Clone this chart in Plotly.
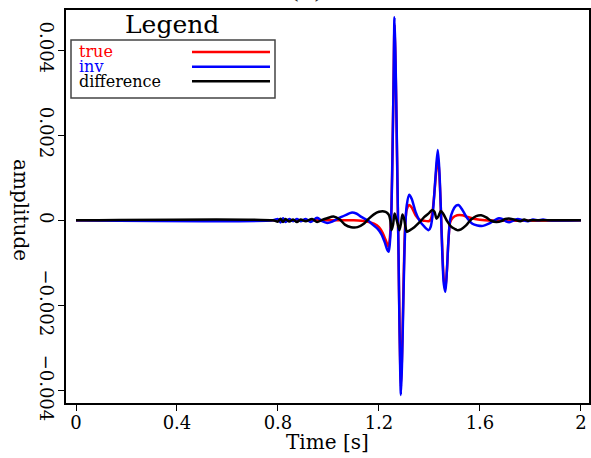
import plotly.graph_objects as go

# ---------------- data ----------------
t_true = [0.0, 0.78, 1.10, 1.13, 1.16, 1.18, 1.20, 1.215, 1.227, 1.2378, 1.2418, 1.2458,
          1.2498, 1.2538, 1.2578, 1.2616, 1.2656, 1.2696, 1.2736, 1.2776, 1.2816, 1.2870,
          1.2916, 1.2956, 1.2996, 1.3040, 1.3100, 1.3200, 1.3300, 1.345, 1.36, 1.38, 1.397,
          1.405, 1.412, 1.419, 1.426, 1.433, 1.439, 1.445, 1.451, 1.457, 1.463, 1.469, 1.475,
          1.482, 1.492, 1.51, 1.53, 1.55, 1.58, 1.62, 2.0]
a_true = [0, 0, 0, -1e-5, -4e-5, -8e-5, -1.6e-4, -3.0e-4, -4.7e-4, -6.2e-4, -5.0e-4, -2.0e-4,
          4e-4, 1.7e-3, 3.2e-3, 4.6e-3, 3.7e-3, 2.3e-3, 7e-4, -8e-4, -2.5e-3, -3.9e-3,
          -3.1e-3, -2.0e-3, -9e-4, -1e-4, 2.5e-4, 3.6e-4, 3.0e-4, 1.2e-4, 2e-5, -1e-5, -2e-5,
          2e-5, 2e-4, 6e-4, 1.1e-3, 1.5e-3, 1.1e-3, 3e-4, -7e-4, -1.4e-3, -1.6e-3, -1.2e-3, -5e-4,
          -5e-5, 6e-5, 1.2e-4, 1.2e-4, 8e-5, 3e-5, 0, 0]

t_inv = [0.0, 0.78, 0.80, 0.81, 0.82, 0.83, 0.845, 0.86, 0.875, 0.89, 0.91, 0.93, 0.955,
         0.975, 0.995, 1.015, 1.04, 1.07, 1.09, 1.11, 1.13, 1.155, 1.175, 1.195, 1.210, 1.222,
         1.232, 1.2378, 1.2418, 1.2458, 1.2498, 1.2538, 1.2578, 1.2616, 1.2656, 1.2696, 1.2736,
         1.2776, 1.2816, 1.2870, 1.2916, 1.2956, 1.2996, 1.3040, 1.3100, 1.3200, 1.3300, 1.345,
         1.36, 1.38, 1.397, 1.405, 1.412, 1.419, 1.426, 1.433, 1.439, 1.445, 1.451, 1.457,
         1.463, 1.469, 1.475, 1.482, 1.492, 1.505, 1.515, 1.530, 1.55, 1.57, 1.59, 1.612,
         1.635, 1.655, 1.675, 1.69, 1.705, 1.72, 1.735, 1.75, 1.77, 1.79, 1.81, 1.83, 1.85,
         1.87, 2.0]
a_inv = [0, 0, 3e-5, -5e-5, 5e-5, -4e-5, 3e-5, -2e-5, 3e-5, -2e-5, 3e-5, -4e-5, 6e-5,
         -2e-5, -6e-5, -3e-5, 5e-5, 1.3e-4, 1.8e-4, 1.6e-4, 8e-5, 0, -1e-4, -2e-4, -3.3e-4, -5e-4,
         -6.8e-4, -7.4e-4, -6.2e-4, -3e-4, 3e-4, 1.6e-3, 3.2e-3, 4.77e-3, 3.8e-3, 2.4e-3, 8e-4,
         -8e-4, -2.6e-3, -4.1e-3, -3.3e-3, -2.2e-3, -1.1e-3, -2e-4, 3.5e-4, 6e-4, 5e-4, 2e-4,
         0, -1.5e-4, -2.3e-4, -1.5e-4, 1e-4, 6e-4, 1.2e-3, 1.65e-3, 1.2e-3, 3e-4, -8e-4, -1.5e-3,
         -1.68e-3, -1.2e-3, -5e-4, 2e-5, 2.2e-4, 3.4e-4, 3.6e-4, 2.5e-4, 5e-5, -8e-5, -1.2e-4, -1.3e-4,
         -8e-5, -1e-5, 5e-5, 3e-5, -3e-5, -4e-5, 0, 3e-5, 0, -2e-5, 2e-5, 0, 2e-5,
         0, 0]

t_diff = [0.0, 0.78, 0.80, 0.81, 0.82, 0.83, 0.845, 0.86, 0.875, 0.89, 0.91, 0.935, 0.955,
          0.975, 0.995, 1.02, 1.045, 1.065, 1.09, 1.115, 1.14, 1.16, 1.18, 1.20, 1.22, 1.232,
          1.240, 1.245, 1.250, 1.256, 1.262, 1.268, 1.275, 1.281, 1.287, 1.293, 1.299, 1.305,
          1.311, 1.32, 1.34, 1.36, 1.38, 1.40, 1.41, 1.42, 1.428, 1.436, 1.445, 1.455, 1.47,
          1.485, 1.50, 1.51, 1.525, 1.545, 1.565, 1.585, 1.605, 1.625, 1.645, 1.665, 1.685,
          1.70, 1.72, 1.74, 1.76, 1.775, 1.79, 1.80, 2.0]
a_diff = [0, 0, -3e-5, 4e-5, -4e-5, 3e-5, -3e-5, 2e-5, -4e-5, 2e-5, -2e-5, 3e-5, -4e-5,
          1e-5, 5e-5, 9e-5, 2e-5, -1e-4, -1.6e-4, -1.6e-4, -8e-5, 4e-5, 1.4e-4, 2e-4, 2.1e-4, 1.8e-4,
          1.2e-4, 0, -2.3e-4, -1e-4, 1.6e-4, 5e-5, -1e-4, -2.3e-4, -8e-5, 1.4e-4, 5e-5, -1.5e-4,
          -2.7e-4, -2.4e-4, -1.6e-4, -5e-5, 8e-5, 1.8e-4, 2.4e-4, 2e-4, 4e-5, 1e-4, 2.2e-4, 1.5e-4, -2e-5,
          -1.4e-4, -2e-4, -2.3e-4, -2.1e-4, -1.2e-4, 2e-5, 1e-4, 1.2e-4, 7e-5, -1e-5, -4e-5, -2e-5,
          3e-5, 4e-5, 1e-5, -2e-5, 2e-5, -1e-5, 0, 0]

x_ticks = [0, 0.4, 0.8, 1.2, 1.6, 2]
x_tick_text = ["0", "0.4", "0.8", "1.2", "1.6", "2"]
y_ticks = [0.004, 0.002, 0, -0.002, -0.004]
y_tick_text = ["0.004", "0.002", "0", "\u22120.002", "\u22120.004"]

legend_names = ["true", "inv", "difference"]
legend_colors = ["#ff0000", "#0000ff", "#000000"]

# ---------------- figure ----------------
FONT = "DejaVu Serif"
W, H = 591, 458
ML, MR, MT, MB = 66, 2, 10, 55
PW, PH = W - ML - MR, H - MT - MB


def px(x):
    return (x - ML) / PW


def py(y):
    return (H - MB - y) / PH


fig = go.Figure()
series = [(t_true, a_true), (t_inv, a_inv), (t_diff, a_diff)]
for (tt, aa), name, col in zip(series, legend_names, legend_colors):
    fig.add_trace(go.Scatter(x=tt, y=aa, mode="lines", name=name,
                             line=dict(color=col, width=2.5, shape="spline", smoothing=0.8),
                             showlegend=False, hoverinfo="skip"))

axis_common = dict(showline=True, mirror=True, linecolor="black", linewidth=1.5,
                   ticks="outside", ticklen=6, tickwidth=1, tickcolor="black",
                   showgrid=False, zeroline=False,
                   tickfont=dict(family=FONT, size=18, color="black"))
fig.update_xaxes(range=[-0.0396, 2.032], tickvals=x_ticks, ticktext=x_tick_text,
                 ticklabelstandoff=-3, **axis_common)
fig.update_yaxes(range=[-0.00429, 0.00494], tickvals=y_ticks, ticktext=y_tick_text,
                 tickangle=90, ticklabelstandoff=-3, **axis_common)

annotations = [
    dict(text="Time [s]", x=px(327), y=py(442), xref="paper", yref="paper",
         xanchor="center", yanchor="middle", showarrow=False,
         font=dict(family=FONT, size=20, color="black")),
    dict(text="amplitude", textangle=90, x=px(21), y=py(210), xref="paper", yref="paper",
         xanchor="center", yanchor="middle", showarrow=False,
         font=dict(family=FONT, size=20, color="black")),
    dict(text="Legend", x=px(172), y=py(25), xref="paper", yref="paper",
         xanchor="center", yanchor="middle", showarrow=False,
         font=dict(family=FONT, size=25, color="black")),
    dict(text="(a)", x=px(306), y=py(6), xref="paper", yref="paper",
         xanchor="center", yanchor="bottom", showarrow=False,
         font=dict(family=FONT, size=24, color="#333")),
]

shapes = [dict(type="rect", xref="paper", yref="paper",
               x0=px(71), x1=px(275), y0=py(98), y1=py(40),
               line=dict(color="#444", width=1.5), fillcolor="white", layer="above")]
ys = [52, 66.7, 81.3]
for name, col, yp in zip(legend_names, legend_colors, ys):
    annotations.append(dict(text=name, x=px(77), y=py(yp), xref="paper", yref="paper",
                            xanchor="left", yanchor="middle", showarrow=False,
                            font=dict(family=FONT, size=16, color=col)))
    shapes.append(dict(type="line", xref="paper", yref="paper",
                       x0=px(192), x1=px(270), y0=py(yp), y1=py(yp),
                       line=dict(color=col, width=2.5), layer="above"))

fig.update_layout(width=W, height=H, margin=dict(l=ML, r=MR, t=MT, b=MB, autoexpand=False),
                  plot_bgcolor="white", paper_bgcolor="white", hovermode=False,
                  annotations=annotations, shapes=shapes, showlegend=False)

fig.write_html("out.html", config={"displayModeBar": False},
               post_script="document.body.style.margin='0';document.body.style.overflow='hidden';")
